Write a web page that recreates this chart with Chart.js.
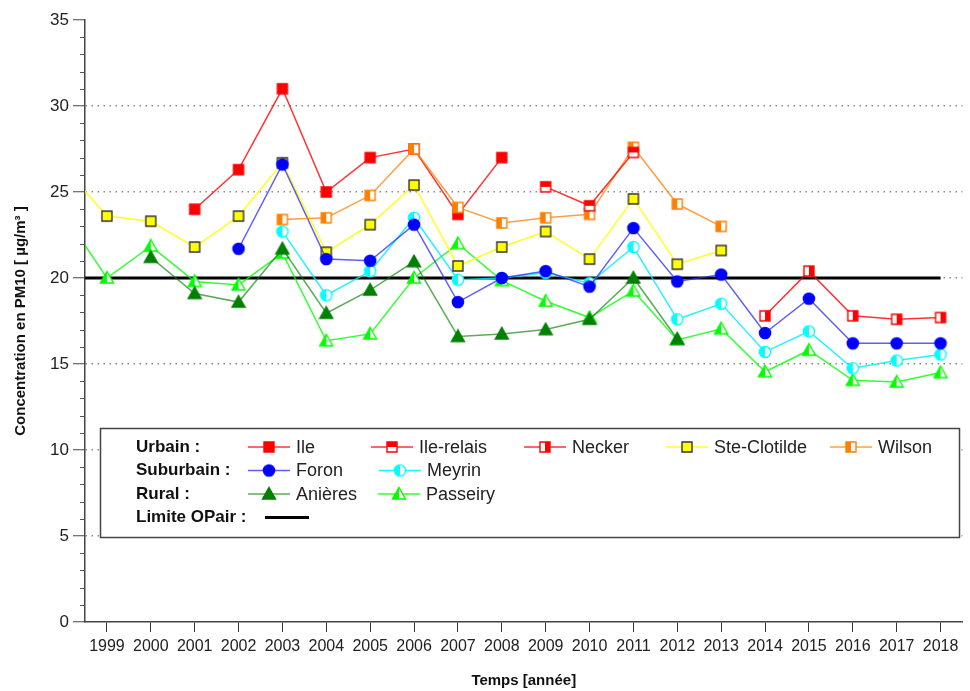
<!DOCTYPE html>
<html>
<head>
<meta charset="utf-8">
<script src="https://cdn.jsdelivr.net/npm/chart.js@4.4.0/dist/chart.umd.min.js"></script>
<style>
  body { margin: 0; background: #fff; }
  canvas { display: block; }
</style>
</head>
<body>
<canvas id="pm10" width="970" height="691"></canvas>
<script>
const n = null;
const years = [1998, 1999, 2000, 2001, 2002, 2003, 2004, 2005, 2006, 2007, 2008,
               2009, 2010, 2011, 2012, 2013, 2014, 2015, 2016, 2017, 2018];

const ile         = [n, n, n, 24.0, 26.3, 31.0, 25.0, 27.0, 27.5, 23.7, 27.0, n, n, n, n, n, n, n, n, n, n];
const ileRelais   = [n, n, n, n, n, n, n, n, n, n, n, 25.3, 24.2, 27.3, n, n, n, n, n, n, n];
const necker      = [n, n, n, n, n, n, n, n, n, n, n, n, n, n, n, n, 17.8, 20.4, 17.8, 17.6, 17.7];
const steClotilde = [26.5, 23.6, 23.3, 21.8, 23.6, 26.7, 21.5, 23.1, 25.4, 20.7, 21.8, 22.7, 21.1, 24.6, 20.8, 21.6, n, n, n, n, n];
const wilson      = [n, n, n, n, n, 23.4, 23.5, 24.8, 27.5, 24.1, 23.2, 23.5, 23.7, 27.6, 24.3, 23.0, n, n, n, n, n];
const foron       = [n, n, n, n, 21.7, 26.6, 21.1, 21.0, 23.1, 18.6, 20.0, 20.4, 19.5, 22.9, 19.8, 20.2, 16.8, 18.8, 16.2, 16.2, 16.2];
const meyrin      = [n, n, n, n, n, 22.7, 19.0, 20.4, 23.5, 19.9, 20.0, 20.3, 19.7, 21.8, 17.6, 18.5, 15.7, 16.9, 14.75, 15.2, 15.55];
const anieres     = [n, n, 21.2, 19.1, 18.6, 21.7, 17.95, 19.3, 20.95, 16.6, 16.75, 17.0, 17.6, 20.0, 16.45, n, n, n, n, n, n];
const passeiry    = [23.8, 20.0, 21.85, 19.8, 19.6, 21.45, 16.35, 16.75, 20.0, 22.0, 19.85, 18.65, 17.7, 19.25, 16.4, 17.05, 14.55, 15.8, 14.05, 13.95, 14.5];
const limiteOPair = 20;

const xTicks = years.slice(1);
const yTicks = [0, 5, 10, 15, 20, 25, 30, 35];
const groupLabels = ['Urbain :', 'Suburbain :', 'Rural :', 'Limite OPair :'];

Chart.defaults.font.family = "'Liberation Sans', Arial, sans-serif";
Chart.defaults.color = '#222';

// little canvases used as point styles (half filled markers)
function marker(shape, fill, edge, half) {
  const s = 16, c = document.createElement('canvas');
  c.width = c.height = s;
  const g = c.getContext('2d');
  const m = s / 2;
  function path() {
    g.beginPath();
    if (shape === 'square') g.rect(m - 5, m - 5, 10, 10);
    else if (shape === 'circle') g.arc(m, m, 5.6, 0, Math.PI * 2);
    else { g.moveTo(m, m - 6.5); g.lineTo(m + 6.5, m + 5); g.lineTo(m - 6.5, m + 5); g.closePath(); }
  }
  path();
  g.fillStyle = half ? '#fff' : fill;
  g.fill();
  if (half) {
    g.save(); path(); g.clip();
    g.fillStyle = fill;
    if (half === 'top') g.fillRect(0, 0, s, m);
    else if (half === 'left') g.fillRect(0, 0, m, s);
    else g.fillRect(m, 0, s, s);
    g.restore();
  }
  path();
  g.lineWidth = 1.4;
  g.strokeStyle = edge;
  g.stroke();
  return c;
}

function pts(arr) {
  return arr.map((v, i) => ({ x: years[i], y: v })).filter(p => p.y !== null);
}

function series(label, arr, line, pointImg, order) {
  return {
    label, data: pts(arr), borderColor: line, borderWidth: 1.5,
    pointStyle: pointImg, pointRadius: 6, pointHoverRadius: 6,
    fill: false, tension: 0, order
  };
}

const datasets = [
  series('Ile', ile, 'rgba(255,0,0,0.8)', marker('square', '#ff0000', '#ff0000'), 3),
  series('Ile-relais', ileRelais, 'rgba(255,0,0,0.8)', marker('square', '#ff0000', '#ff0000', 'top'), 1),
  series('Necker', necker, 'rgba(255,0,0,0.8)', marker('square', '#ff0000', '#ff0000', 'right'), 4),
  series('Ste-Clotilde', steClotilde, '#ffff20', marker('square', '#ffff00', '#333333'), 6),
  series('Wilson', wilson, 'rgba(255,128,0,0.75)', marker('square', '#ff8000', '#ff8000', 'left'), 2),
  series('Foron', foron, 'rgba(40,40,255,0.75)', marker('circle', '#0000ff', '#0000ff'), 5),
  series('Meyrin', meyrin, 'rgba(0,240,255,0.85)', marker('circle', '#00ffff', '#00ffff', 'left'), 7),
  series('Anières', anieres, 'rgba(0,128,0,0.65)', marker('triangle', '#008000', '#008000'), 8),
  series('Passeiry', passeiry, 'rgba(0,255,0,0.8)', marker('triangle', '#00ff00', '#00ff00', 'left'), 9),
  {
    label: 'Limite OPair', data: [{ x: years[0], y: limiteOPair }, { x: years[years.length - 1], y: limiteOPair }],
    borderColor: '#000', borderWidth: 3, pointRadius: 0, order: 10
  }
];

// minor ticks on the y axis
const minorTicks = {
  id: 'minorTicks',
  afterDraw(chart) {
    const y = chart.scales.y, g = chart.ctx, x0 = chart.chartArea.left;
    g.save();
    g.strokeStyle = '#555';
    g.lineWidth = 1;
    for (let v = 0; v <= 35; v++) {
      if (v % 5 === 0) continue;
      const py = Math.round(y.getPixelForValue(v)) + 0.5;
      g.beginPath(); g.moveTo(x0 - 5, py); g.lineTo(x0, py); g.stroke();
    }
    g.restore();
  }
};

// boxed legend drawn inside the plot
const legendItems = [
  { ds: 0, row: 0, mx: 269 }, { ds: 1, row: 0, mx: 392 }, { ds: 2, row: 0, mx: 545 },
  { ds: 3, row: 0, mx: 687 }, { ds: 4, row: 0, mx: 851 },
  { ds: 5, row: 1, mx: 269 }, { ds: 6, row: 1, mx: 400 },
  { ds: 7, row: 2, mx: 269 }, { ds: 8, row: 2, mx: 399 }
];
const boxLegend = {
  id: 'boxLegend',
  afterDraw(chart) {
    const g = chart.ctx;
    const rowY = [447, 470.5, 494, 517.5];
    g.save();
    g.fillStyle = '#fff';
    g.fillRect(100, 428, 860, 110);
    g.strokeStyle = '#444';
    g.lineWidth = 1.5;
    g.strokeRect(100.5, 428.5, 859, 109);
    g.textBaseline = 'middle';
    g.fillStyle = '#111';
    g.font = "bold 17px 'Liberation Sans', Arial, sans-serif";
    groupLabels.forEach((t, i) => g.fillText(t, 136, rowY[i]));
    g.font = "18px 'Liberation Sans', Arial, sans-serif";
    legendItems.forEach(it => {
      const d = chart.data.datasets[it.ds], y = rowY[it.row];
      g.strokeStyle = d.borderColor;
      g.lineWidth = 1.5;
      g.beginPath(); g.moveTo(it.mx - 21, y); g.lineTo(it.mx + 21, y); g.stroke();
      const im = d.pointStyle;
      g.drawImage(im, it.mx - im.width / 2, y - im.height / 2);
      g.fillStyle = '#222';
      g.fillText(d.label, it.mx + 27, y + 1);
    });
    g.strokeStyle = '#000';
    g.lineWidth = 3;
    g.beginPath(); g.moveTo(265, rowY[3]); g.lineTo(309, rowY[3]); g.stroke();
    g.restore();
  }
};

new Chart(document.getElementById('pm10'), {
  type: 'line',
  data: { datasets },
  options: {
    responsive: false,
    animation: false,
    events: [],
    layout: { padding: { top: 20, right: 3, left: 0, bottom: 0 } },
    plugins: { legend: { display: false }, tooltip: { enabled: false } },
    scales: {
      x: {
        type: 'linear',
        min: 1998.5, max: 2018.5,
        afterFit: s => { s.height = 69; },
        afterBuildTicks: s => { s.ticks = xTicks.map(v => ({ value: v })); },
        ticks: {
          autoSkip: false, maxRotation: 0,
          padding: 5, color: '#222', font: { size: 16 },
          callback: v => String(v)
        },
        grid: { drawOnChartArea: false, tickLength: 10, tickColor: '#333', tickWidth: 1 },
        border: { color: '#444', width: 1.5 },
        title: {
          display: true, text: 'Temps [année]', color: '#111',
          font: { size: 15, weight: 'bold' }, padding: { top: 0, bottom: 1 }
        }
      },
      y: {
        min: 0, max: 35,
        afterFit: s => { s.width = 85; },
        afterBuildTicks: s => { s.ticks = yTicks.map(v => ({ value: v })); },
        ticks: { autoSkip: false, padding: 4, color: '#222', font: { size: 17 } },
        grid: {
          color: c => (c.tick && c.tick.value > 0 && c.tick.value < 35) ? '#8a8a8a' : 'rgba(0,0,0,0)',
          lineWidth: 1.5,
          tickLength: 12, tickColor: '#444', tickWidth: 1, tickBorderDash: []
        },
        border: { color: '#444', width: 1.5, dash: [1.5, 4.5] },
        title: {
          display: true, text: 'Concentration en PM10 [ µg/m³ ]', color: '#111',
          font: { size: 15, weight: 'bold' }, padding: { top: 12, bottom: 4 }
        }
      }
    }
  },
  plugins: [minorTicks, boxLegend]
});
</script>
</body>
</html>
